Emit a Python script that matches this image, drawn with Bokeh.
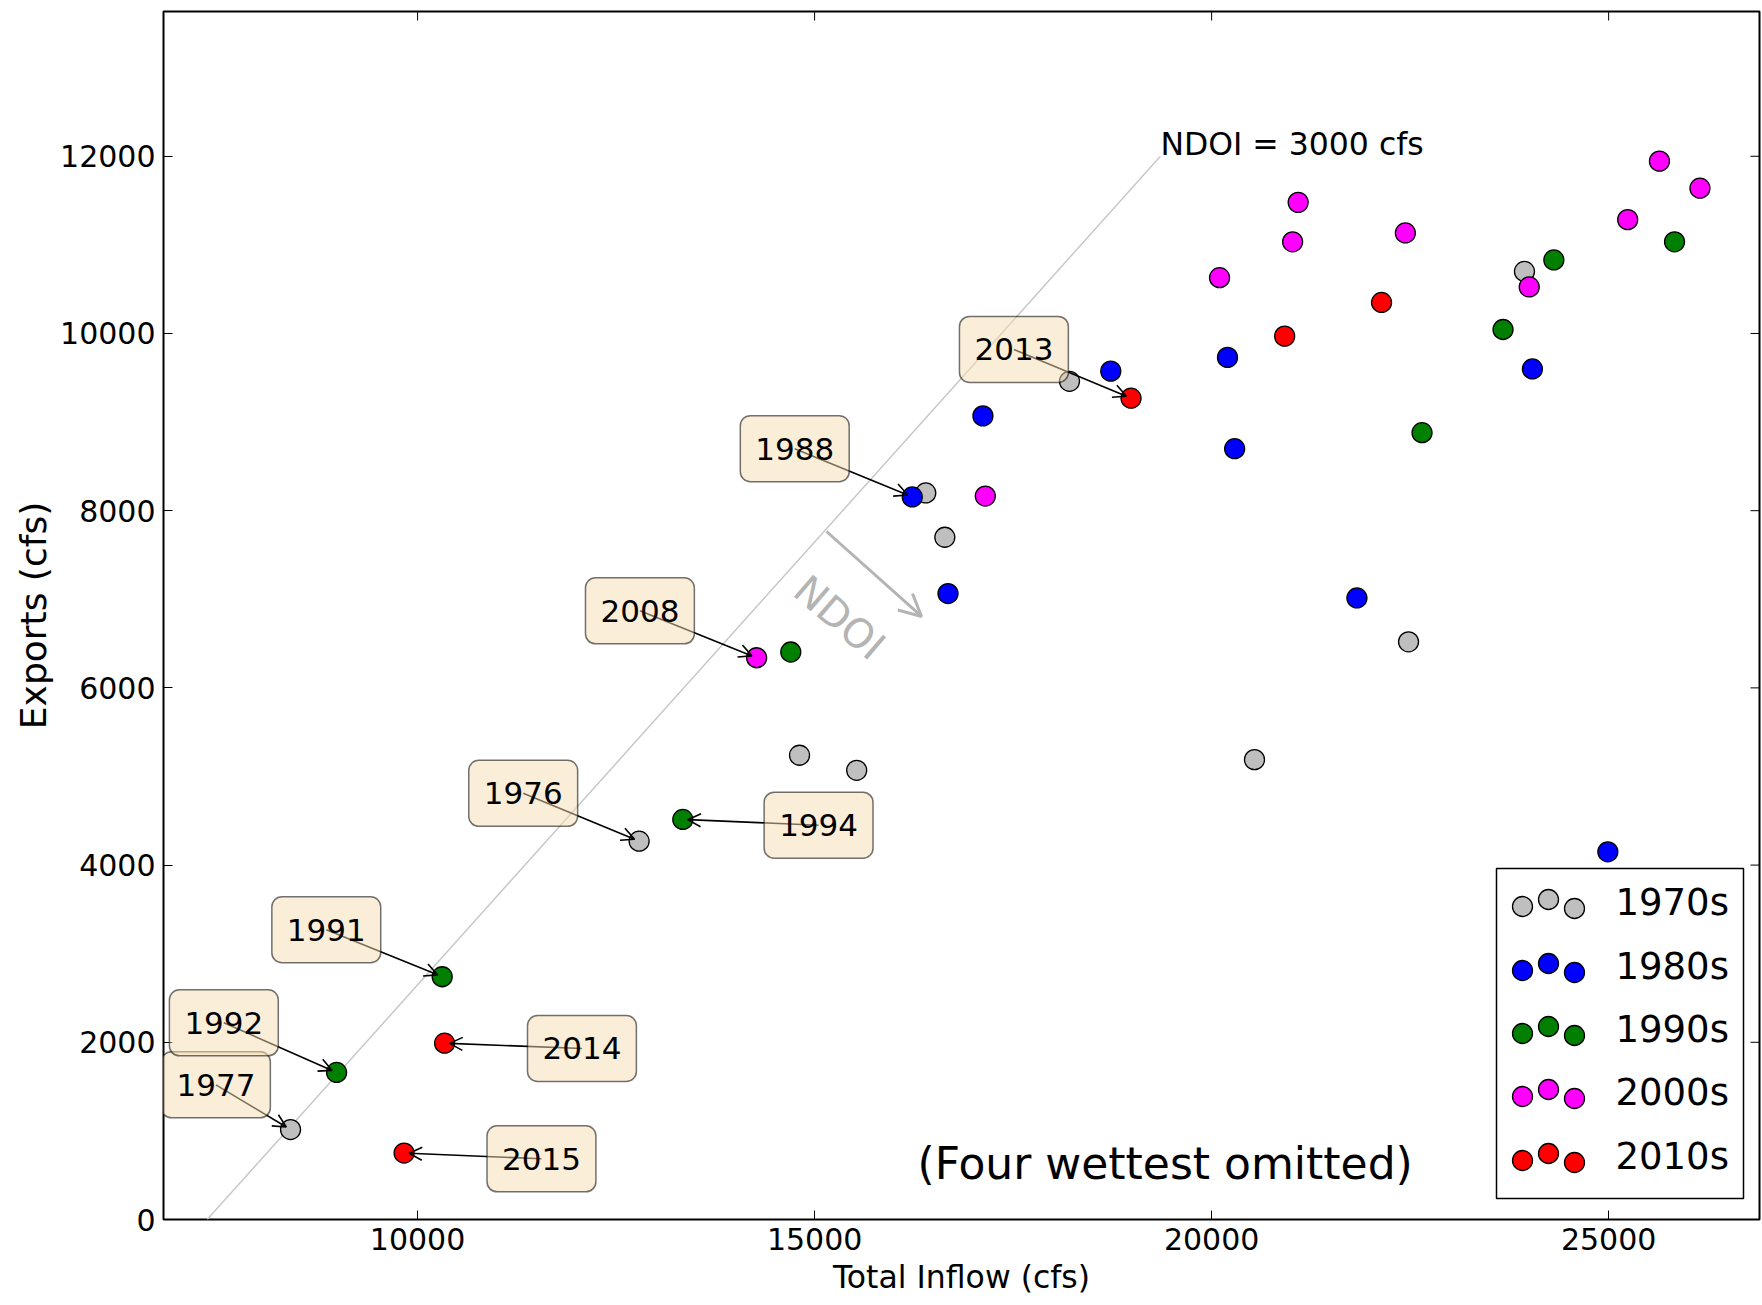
import math
from bokeh.plotting import figure
from bokeh.models import (Range1d, FixedTicker, Label, Arrow, OpenHead, BoxAnnotation)
from bokeh.embed import file_html
from bokeh.resources import INLINE

# ---------------- data ----------------
decades = ["1970s", "1980s", "1990s", "2000s", "2010s"]
decade_colors = ["#bfbfbf", "#0000ff", "#007f00", "#ff00ff", "#ff0000"]

inflow_1970s = [8400, 12790, 14810, 15530, 16400, 16640, 18210, 20540, 22480, 23940]
exports_1970s = [1015, 4270, 5240, 5070, 8200, 7700, 9460, 5190, 6520, 10700]

inflow_1980s = [16230, 16680, 17120, 18730, 20200, 20290, 21830, 24040, 24990]
exports_1980s = [8155, 7065, 9070, 9575, 9730, 8700, 7015, 9600, 4150]

inflow_1990s = [8980, 10310, 13340, 14700, 22650, 23670, 24310, 25830]
exports_1990s = [1660, 2740, 4515, 6405, 8880, 10045, 10830, 11035]

inflow_2000s = [14270, 17150, 20100, 21020, 21090, 22440, 24000, 25240, 25640, 26150]
exports_2000s = [6340, 8165, 10630, 11035, 11480, 11135, 10525, 11285, 11945, 11640]

inflow_2010s = [18985, 10340, 9830, 20920, 22140]
exports_2010s = [9270, 1990, 750, 9970, 10350]

inflows = [inflow_1970s, inflow_1980s, inflow_1990s, inflow_2000s, inflow_2010s]
exports = [exports_1970s, exports_1980s, exports_1990s, exports_2000s, exports_2010s]

# annotated years: (decade index, point index)
annot_years = ["1977", "1976", "1988", "1991", "1992", "1994", "2008", "2013", "2014", "2015"]
annot_decade = [0, 0, 1, 2, 2, 2, 3, 4, 4, 4]
annot_point = [0, 1, 0, 1, 0, 2, 0, 0, 1, 2]
# where each year's text box sits (data units)
annot_box_x = [7460, 11330, 14750, 8850, 7560, 15050, 12800, 17510, 12070, 11560]
annot_box_y = [1520, 4810, 8700, 3270, 2220, 4450, 6870, 9820, 1930, 685]

# NDOI = 3000 cfs reference line
ndoi_inflow = [7350, 19355]
ndoi_exports = [0, 12000]

x_ticks = [10000, 15000, 20000, 25000]
y_ticks = [0, 2000, 4000, 6000, 8000, 10000, 12000]

# ---------------- layout ----------------
X0, X1 = 6800, 26900
Y0, Y1 = 0, 13634
W, H = 1762, 1305
BL, BR, BT, BB = 163, 3, 11, 86
FW, FH = W - BL - BR, H - BT - BB
PX_X = FW / (X1 - X0)
PX_Y = FH / (Y1 - Y0)


def fx(px):
    return X0 + px / PX_X


def fy(py):
    return Y1 - py / PX_Y


FONT = "DejaVu Sans"

p = figure(width=W, height=H, x_range=Range1d(X0, X1), y_range=Range1d(Y0, Y1),
           output_backend="svg", toolbar_location=None,
           min_border_left=BL, min_border_right=BR, min_border_top=BT, min_border_bottom=BB)
p.xgrid.visible = False
p.ygrid.visible = False
p.outline_line_color = "black"
p.outline_line_width = 2
p.background_fill_color = "white"
p.border_fill_color = "white"


def style_axis(ax):
    ax.axis_line_color = None
    ax.major_tick_in = 9
    ax.major_tick_out = 0
    ax.minor_tick_in = 0
    ax.minor_tick_out = 0
    ax.major_tick_line_color = "black"
    ax.major_tick_line_width = 1
    ax.major_label_text_font = FONT
    ax.major_label_text_font_size = "30px"
    ax.major_label_text_color = "black"
    ax.axis_label_text_font = FONT
    ax.axis_label_text_font_style = "normal"
    ax.axis_label_text_color = "black"


xa = p.xaxis[0]
xa.ticker = FixedTicker(ticks=x_ticks, minor_ticks=[])
style_axis(xa)
xa.axis_label = "Total Inflow (cfs)"
xa.axis_label_text_font_size = "31.5px"
xa.major_label_standoff = 8
xa.axis_label_standoff = 6

ya = p.yaxis[0]
ya.ticker = FixedTicker(ticks=y_ticks, minor_ticks=[])
style_axis(ya)
ya.axis_label = "Exports (cfs)"
ya.axis_label_text_font_size = "36px"
ya.major_label_standoff = 8
ya.axis_label_standoff = 3

# inward tick marks on the top and right spines (mirroring the axis ticks)
TICK = 9
p.segment(x0=x_ticks, y0=[Y1] * len(x_ticks), x1=x_ticks,
          y1=[Y1 - TICK / PX_Y] * len(x_ticks), line_color="black", line_width=1)
p.segment(x0=[X1] * len(y_ticks), y0=y_ticks, x1=[X1 - TICK / PX_X] * len(y_ticks),
          y1=y_ticks, line_color="black", line_width=1)

# NDOI reference line
p.line(ndoi_inflow, ndoi_exports, line_color="#c8c8c8", line_width=1.5)

# data points
for dec, col, xs, ys in zip(decades, decade_colors, inflows, exports):
    p.scatter(xs, ys, size=20, marker="circle", fill_color=col,
              line_color="black", line_width=1.3)

# NDOI = 3000 cfs text
p.add_layout(Label(x=ndoi_inflow[1], y=ndoi_exports[1], text="NDOI = 3000 cfs",
                   text_font=FONT, text_font_size="31.5px", text_color="black",
                   text_align="left", text_baseline="alphabetic", y_offset=12))

# NDOI direction arrow + rotated label
GRAY = "#b4b4b4"
p.add_layout(Arrow(x_start=15150, y_start=7765, x_end=16347, y_end=6806,
                   line_color=GRAY, line_width=3,
                   end=OpenHead(size=22, line_color=GRAY, line_width=3)))
p.add_layout(Label(x=15314, y=6795, text="NDOI", angle=-0.71,
                   text_font=FONT, text_font_size="40px", text_color=GRAY,
                   text_align="center", text_baseline="middle"))

# annotations
SHRINK = 5
for yr, di, pi, bx, by in zip(annot_years, annot_decade, annot_point, annot_box_x, annot_box_y):
    tx, ty = inflows[di][pi], exports[di][pi]
    dxp = (tx - bx) * PX_X
    dyp = (ty - by) * PX_Y
    L = math.hypot(dxp, dyp)
    ex = tx - dxp / L * SHRINK / PX_X
    ey = ty - dyp / L * SHRINK / PX_Y
    p.add_layout(Arrow(x_start=bx, y_start=by, x_end=ex, y_end=ey,
                       line_color="black", line_width=1.6,
                       end=OpenHead(size=13, line_color="black", line_width=1.6)))
    p.add_layout(Label(x=bx, y=by, text=yr, text_font=FONT, text_font_size="31px",
                       text_color="black", text_align="center", text_baseline="middle",
                       background_fill_color="wheat", background_fill_alpha=0.5,
                       border_line_color="black", border_line_alpha=0.55,
                       border_line_width=1.5, padding=(15, 15, 22, 22), border_radius=10))

# note
p.add_layout(Label(x=fx(754), y=fy(1152), text="(Four wettest omitted)",
                   text_font=FONT, text_font_size="44px", text_color="black",
                   text_align="left", text_baseline="middle"))

# custom legend (three markers per entry, like the original)
p.add_layout(BoxAnnotation(left=fx(1333), right=fx(1580), top=fy(857), bottom=fy(1187),
                           fill_color="white", fill_alpha=1.0,
                           line_color="black", line_alpha=1.0, line_width=1.5))
row_py = [891, 955, 1018, 1081, 1145]
dot_px = [1359, 1385, 1411]
dot_dy = [4, -3, 6]
for dec, col, ry in zip(decades, decade_colors, row_py):
    lx = [fx(d) for d in dot_px]
    ly = [fy(ry + o) for o in dot_dy]
    p.scatter(lx, ly, size=20, marker="circle", fill_color=col, line_color="black",
              line_width=1.3, level="overlay")
    p.add_layout(Label(x=fx(1452), y=fy(ry), text=dec, text_font=FONT,
                       text_font_size="37px", text_color="black",
                       text_align="left", text_baseline="middle"))

open("out.html", "w").write(file_html(p, INLINE))
